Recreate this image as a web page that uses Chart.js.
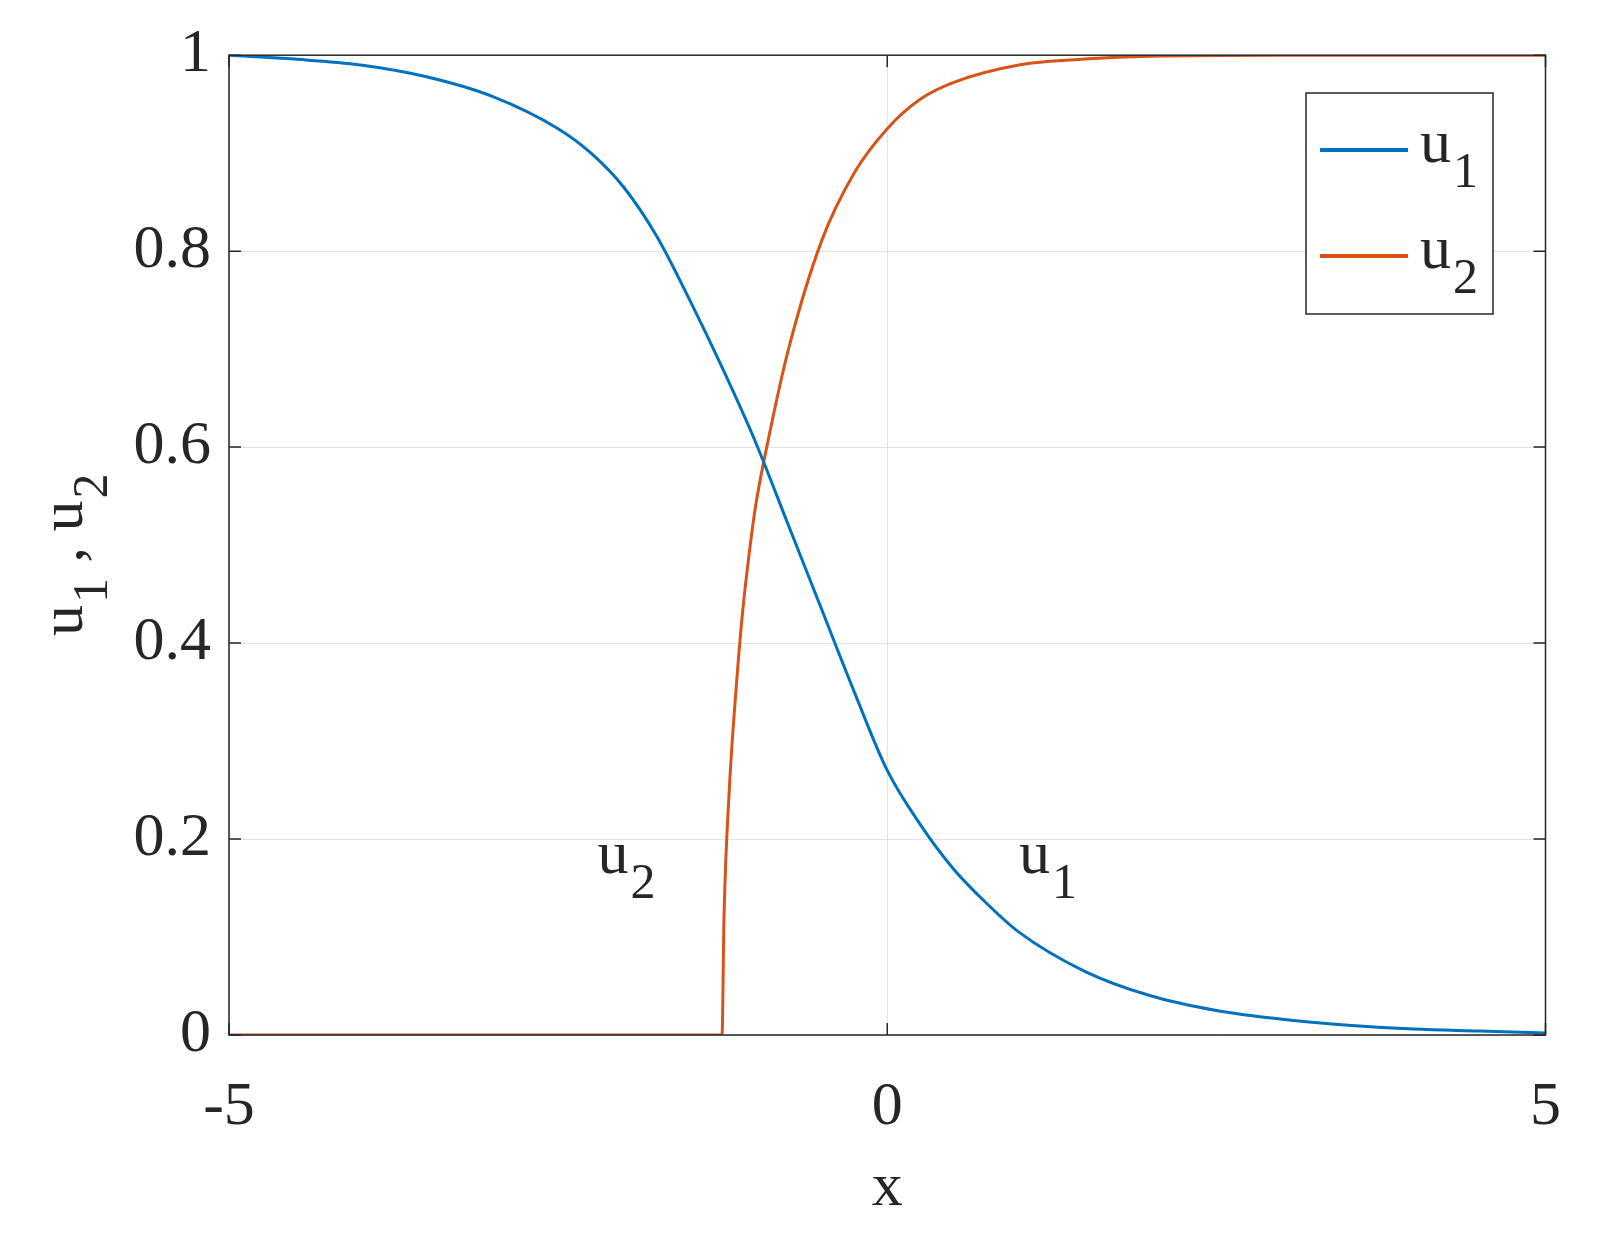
<!DOCTYPE html>
<html>
<head>
<meta charset="utf-8">
<script src="https://cdn.jsdelivr.net/npm/chart.js@4.4.1/dist/chart.umd.min.js"></script>
<style>
html,body{margin:0;padding:0;background:#fff;}
#wrap{width:1597px;height:1250px;}
</style>
</head>
<body>
<div id="wrap"><canvas id="c"></canvas></div>
<script>
// valores
const xU1 = [-5, -4.5, -4, -3.5, -3, -2.5, -2.25, -2, -1.75, -1.5, -1.25, -1, -0.75, -0.5, -0.25, 0, 0.25, 0.5, 0.75, 1, 1.5, 2, 2.5, 3, 3.5, 4, 4.5, 5];
const u1  = [1.0, 0.996, 0.99, 0.978, 0.958, 0.925, 0.9, 0.865, 0.815, 0.75, 0.68, 0.605, 0.52, 0.435, 0.35, 0.27, 0.215, 0.17, 0.135, 0.105, 0.065, 0.04, 0.025, 0.016, 0.01, 0.006, 0.004, 0.002];
const xU2 = [-5, -1.255, -1.24, -1.2, -1.15, -1.1, -1.05, -1.0, -0.9, -0.75, -0.5, -0.25, 0, 0.25, 0.5, 1, 1.5, 2, 3, 5];
const u2  = [0, 0, 0.12, 0.25, 0.35, 0.43, 0.49, 0.54, 0.61, 0.70, 0.81, 0.88, 0.925, 0.955, 0.972, 0.99, 0.996, 0.999, 1.0, 1.0];
const xTicks = [-5, 0, 5];
const yTicks = [0, 0.2, 0.4, 0.6, 0.8, 1];

const BLUE = '#0072bd', ORANGE = '#d95319';
const FONT = '"Liberation Serif", serif';
const toPts = (xs, ys) => xs.map((x, i) => ({x: x, y: ys[i]}));

// texto con subíndice
function subText(ctx, base, sub, x, y, size) {
    ctx.font = size + 'px ' + FONT;
    ctx.fillText(base, x, y);
    const w = ctx.measureText(base).width;
    ctx.font = Math.round(size * 0.8) + 'px ' + FONT;
    ctx.fillText(sub, x + w + 2, y + size * 0.4);
    return w + 2 + ctx.measureText(sub).width;
}

const extras = {
    id: 'extras',
    afterDraw(chart) {
        const ctx = chart.ctx, a = chart.chartArea;
        const sx = chart.scales.x, sy = chart.scales.y;
        ctx.save();
        // caja y marcas de la derecha
        ctx.strokeStyle = '#262626'; ctx.lineWidth = 1.5;
        ctx.strokeRect(a.left, a.top, a.right - a.left, a.bottom - a.top);
        yTicks.forEach(v => {
            const py = sy.getPixelForValue(v);
            ctx.beginPath(); ctx.moveTo(a.left, py); ctx.lineTo(a.left + 12, py);
            ctx.moveTo(a.right, py); ctx.lineTo(a.right - 12, py); ctx.stroke();
        });
        xTicks.forEach(v => {
            const px = sx.getPixelForValue(v);
            ctx.beginPath(); ctx.moveTo(px, a.bottom); ctx.lineTo(px, a.bottom - 12);
            ctx.moveTo(px, a.top); ctx.lineTo(px, a.top + 12); ctx.stroke();
        });
        ctx.fillStyle = '#262626';
        ctx.textBaseline = 'alphabetic';
        // etiquetas dentro del gráfico
        subText(ctx, 'u', '2', sx.getPixelForValue(-2.2), sy.getPixelForValue(0.165), 62);
        subText(ctx, 'u', '1', sx.getPixelForValue(1.0), sy.getPixelForValue(0.165), 62);
        // título eje x
        ctx.font = '62px ' + FONT; ctx.textAlign = 'center';
        ctx.fillText('x', sx.getPixelForValue(0), 1205);
        // título eje y (girado)
        ctx.save();
        ctx.translate(82, 536); ctx.rotate(-Math.PI / 2);
        ctx.textAlign = 'left';
        let off = -100;
        off += subText(ctx, 'u', '1', off, 0, 62);
        ctx.font = '62px ' + FONT; ctx.fillText(' , ', off, 0);
        off += ctx.measureText(' , ').width;
        subText(ctx, 'u', '2', off, 0, 62);
        ctx.restore();
        // leyenda
        ctx.textAlign = 'left';
        ctx.fillStyle = '#fff';
        ctx.fillRect(1306, 93, 187, 221);
        ctx.strokeStyle = '#262626'; ctx.lineWidth = 1.5;
        ctx.strokeRect(1306, 93, 187, 221);
        [[BLUE, '1', 150], [ORANGE, '2', 256]].forEach(([c, s, y]) => {
            ctx.strokeStyle = c; ctx.lineWidth = 4;
            ctx.beginPath(); ctx.moveTo(1320, y); ctx.lineTo(1408, y); ctx.stroke();
            ctx.fillStyle = '#262626';
            subText(ctx, 'u', s, 1420, y + 12, 62);
        });
        ctx.restore();
    }
};

new Chart(document.getElementById('c'), {
    type: 'scatter',
    data: {
        datasets: [
            {label: 'u1', data: toPts(xU1, u1), borderColor: BLUE, borderWidth: 3, showLine: true, pointRadius: 0, cubicInterpolationMode: 'monotone'},
            {label: 'u2', data: toPts(xU2, u2), borderColor: ORANGE, borderWidth: 3, showLine: true, pointRadius: 0, cubicInterpolationMode: 'monotone'}
        ]
    },
    options: {
        responsive: true,
        maintainAspectRatio: false,
        animation: false,
        layout: {padding: {top: 20, right: 27, left: 0, bottom: 0}},
        plugins: {legend: {display: false}, tooltip: {enabled: false}},
        scales: {
            x: {
                type: 'linear', min: -5, max: 5,
                afterBuildTicks: s => { s.ticks = xTicks.map(v => ({value: v})); },
                afterFit: s => { s.height = 215; },
                grid: {color: '#e3e3e3', drawTicks: false},
                border: {display: false},
                ticks: {color: '#262626', font: {family: FONT, size: 62}, padding: 36, maxRotation: 0}
            },
            y: {
                min: 0, max: 1,
                afterBuildTicks: s => { s.ticks = yTicks.map(v => ({value: v})); },
                afterFit: s => { s.width = 229; },
                grid: {color: '#e3e3e3', drawTicks: false},
                border: {display: false},
                ticks: {color: '#262626', font: {family: FONT, size: 62}, padding: 18,
                        callback: v => String(Math.round(v * 10) / 10)}
            }
        }
    },
    plugins: [extras]
});
</script>
</body>
</html>
